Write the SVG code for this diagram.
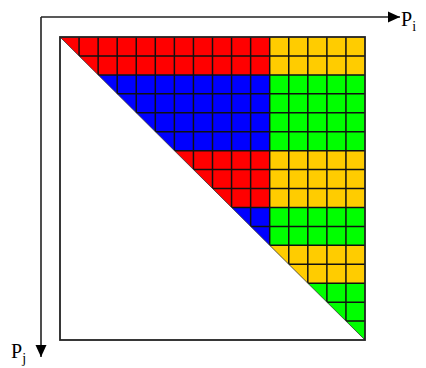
<svg xmlns="http://www.w3.org/2000/svg" width="426" height="368" viewBox="0 0 426 368">
<style>
.ax{stroke:#222;stroke-width:1.6;fill:none}
.grid{stroke:#111;stroke-width:1.5;fill:none}
.lbl{font-family:"Liberation Serif","Times New Roman",serif;font-size:20px;fill:#000}
.sub{font-size:14px}
</style>
<defs>
<clipPath id="tri"><polygon points="60,37 365,37 365,340"/></clipPath>
<marker id="arr" markerUnits="userSpaceOnUse" markerWidth="14" markerHeight="12" refX="12" refY="6" orient="auto" viewBox="0 0 14 12"><polygon points="0,0.5 12,6 0,11.5" fill="#000"/></marker>
</defs>
<rect width="426" height="368" fill="#fff"/>
<g id="matrix" clip-path="url(#tri)">
<rect x="60" y="37" width="209.69" height="37.88" fill="#ff0000"/>
<rect x="60" y="74.88" width="209.69" height="75.75" fill="#0000ff"/>
<rect x="60" y="150.63" width="209.69" height="56.81" fill="#ff0000"/>
<rect x="60" y="207.44" width="209.69" height="37.87" fill="#0000ff"/>
<rect x="269.69" y="37" width="95.31" height="37.88" fill="#ffcc00"/>
<rect x="269.69" y="74.88" width="95.31" height="75.75" fill="#00ff00"/>
<rect x="269.69" y="150.63" width="95.31" height="56.81" fill="#ffcc00"/>
<rect x="269.69" y="207.44" width="95.31" height="37.87" fill="#00ff00"/>
<rect x="269.69" y="245.31" width="95.31" height="37.88" fill="#ffcc00"/>
<rect x="269.69" y="283.19" width="95.31" height="56.81" fill="#00ff00"/>
<path class="grid" d="M79.06,37V340M98.13,37V340M117.19,37V340M136.25,37V340M155.31,37V340M174.38,37V340M193.44,37V340M212.5,37V340M231.56,37V340M250.63,37V340M269.69,37V340M288.75,37V340M307.81,37V340M326.88,37V340M345.94,37V340M60,55.94H365M60,74.88H365M60,93.81H365M60,112.75H365M60,131.69H365M60,150.63H365M60,169.56H365M60,188.5H365M60,207.44H365M60,226.38H365M60,245.31H365M60,264.25H365M60,283.19H365M60,302.13H365M60,321.06H365"/>
</g>
<line x1="60" y1="37" x2="365" y2="340" stroke="#333" stroke-width="0.8"/>
<rect id="frame" x="60" y="37" width="305" height="303" fill="none" stroke="#222" stroke-width="1.8"/>
<g id="axes">
<path class="ax" d="M41,17H400" marker-end="url(#arr)"/>
<path class="ax" d="M41,17V357" marker-end="url(#arr)"/>
</g>
<g id="labels">
<text class="lbl" x="401" y="26">P<tspan class="sub" dy="5">i</tspan></text>
<text class="lbl" x="11" y="358">P<tspan class="sub" dy="5">j</tspan></text>
</g>
</svg>
